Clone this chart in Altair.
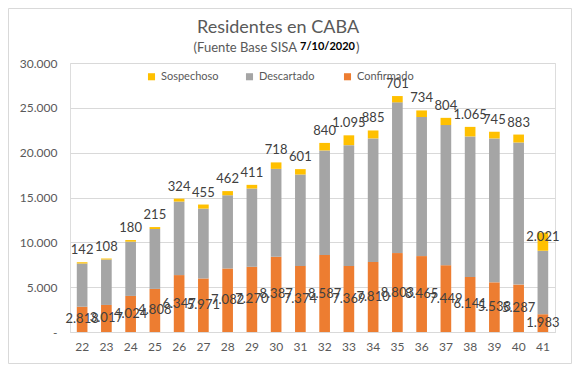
import altair as alt
import pandas as pd

weeks = list(range(22, 42))
confirmado = [2818, 3017, 4024, 4808, 6347, 5971, 7082, 7270, 8387, 7374,
              8587, 7369, 7810, 8803, 8465, 7449, 6141, 5538, 5287, 1983]
descartado = [4820, 5070, 6050, 6680, 8200, 7790, 8170, 8730, 9810, 10190,
              11660, 13470, 13780, 16810, 15510, 15630, 15670, 16050, 15850, 7080]
sospechoso = [142, 108, 180, 215, 324, 455, 462, 411, 718, 601,
              840, 1095, 885, 701, 734, 804, 1065, 745, 883, 2021]

categorias = ["Sospechoso", "Descartado", "Confirmado"]
colores = ["#FFC000", "#A5A5A5", "#ED7D31"]

rows = []
for i, w in enumerate(weeks):
    rows.append({"semana": str(w), "categoria": "Confirmado", "valor": confirmado[i], "orden": 0})
    rows.append({"semana": str(w), "categoria": "Descartado", "valor": descartado[i], "orden": 1})
    rows.append({"semana": str(w), "categoria": "Sospechoso", "valor": sospechoso[i], "orden": 2})
long_df = pd.DataFrame(rows)

wide_df = pd.DataFrame({
    "semana": [str(w) for w in weeks],
    "conf": confirmado,
    "desc": descartado,
    "sosp": sospechoso,
})

FONT = "Lato"
LABEL_COLOR = "#404040"
AXIS_COLOR = "#595959"
GRID = "#D9D9D9"
week_sort = [str(w) for w in weeks]

x_enc = alt.X("semana:O", sort=week_sort,
              scale=alt.Scale(paddingInner=0.56, paddingOuter=0.28),
              axis=alt.Axis(title=None, labelAngle=0, ticks=False, domainColor=GRID,
                            labelColor=AXIS_COLOR, labelFont=FONT, labelFontSize=12,
                            labelPadding=9))

y_scale = alt.Scale(domain=[0, 30000])

bars = alt.Chart(long_df).mark_bar().encode(
    x=x_enc,
    y=alt.Y("valor:Q", stack="zero", scale=y_scale,
            axis=alt.Axis(title=None, values=[0, 5000, 10000, 15000, 20000, 25000, 30000],
                          domain=False, ticks=False, gridColor=GRID, labelColor=AXIS_COLOR,
                          labelFont=FONT, labelFontSize=12, labelPadding=13,
                          labelExpr="datum.value == 0 ? '-  ' : replace(format(datum.value, ','), ',', '.')")),
    color=alt.Color("categoria:N", scale=alt.Scale(domain=categorias, range=colores),
                    legend=alt.Legend(title=None, orient="none", legendX=76, legendY=8,
                                      direction="horizontal", columns=3, symbolType="square",
                                      symbolSize=50, labelFont=FONT, labelFontSize=11,
                                      labelColor=AXIS_COLOR, gridAlign="all",
                                      columnPadding=25, symbolStrokeWidth=0)),
    order=alt.Order("orden:Q", sort="ascending"),
)

base_txt = alt.Chart(wide_df).transform_calculate(
    conf_mid="datum.conf / 2",
    total="datum.conf + datum.desc + datum.sosp",
    conf_lbl="replace(format(datum.conf, ','), ',', '.')",
    sosp_lbl="replace(format(datum.sosp, ','), ',', '.')",
)

conf_text = base_txt.mark_text(font=FONT, fontSize=13, color=LABEL_COLOR, baseline="middle").encode(
    x=alt.X("semana:O", sort=week_sort),
    y=alt.Y("conf_mid:Q", scale=y_scale),
    text="conf_lbl:N",
)

sosp_text = base_txt.transform_filter("datum.semana != '41'").mark_text(
    font=FONT, fontSize=13, color=LABEL_COLOR, baseline="middle", dy=-12).encode(
    x=alt.X("semana:O", sort=week_sort),
    y=alt.Y("total:Q", scale=y_scale),
    text="sosp_lbl:N",
)

sosp_text_last = base_txt.transform_filter("datum.semana == '41'").mark_text(
    font=FONT, fontSize=13, color=LABEL_COLOR, baseline="middle", dy=4).encode(
    x=alt.X("semana:O", sort=week_sort),
    y=alt.Y("total:Q", scale=y_scale),
    text="sosp_lbl:N",
)

title = alt.Chart(pd.DataFrame({"t": ["Residentes en CABA"]})).mark_text(
    font=FONT, fontSize=18, color=AXIS_COLOR, align="center", baseline="middle").encode(
    text="t:N", x=alt.value(208), y=alt.value(-35))

sub1 = alt.Chart(pd.DataFrame({"t": ["(Fuente Base SISA"]})).mark_text(
    font=FONT, fontSize=13, color=AXIS_COLOR, align="right", baseline="middle").encode(
    text="t:N", x=alt.value(227), y=alt.value(-15))
sub2 = alt.Chart(pd.DataFrame({"t": ["7/10/2020"]})).mark_text(
    font=FONT, fontSize=11, fontWeight="bold", color="#000000", align="left", baseline="middle").encode(
    text="t:N", x=alt.value(230), y=alt.value(-16))
sub3 = alt.Chart(pd.DataFrame({"t": [")"]})).mark_text(
    font=FONT, fontSize=13, color=AXIS_COLOR, align="left", baseline="middle").encode(
    text="t:N", x=alt.value(286), y=alt.value(-15))

border = alt.Chart(pd.DataFrame({"a": [0]})).mark_rect(fill=None, stroke="#D9D9D9", strokeWidth=1).encode(
    x=alt.value(-61.5), x2=alt.value(501.5), y=alt.value(-54.5), y2=alt.value(300.5))

chart = alt.layer(border, bars, conf_text, sosp_text, sosp_text_last, title, sub1, sub2, sub3).properties(
    width=485, height=269,
    autosize=alt.AutoSizeParams(type="none"),
    padding={"left": 62, "top": 55, "right": 17, "bottom": 32},
).configure_view(stroke=None).configure(background="white")

chart.save("out.html", embed_options={"renderer": "svg", "actions": False})
